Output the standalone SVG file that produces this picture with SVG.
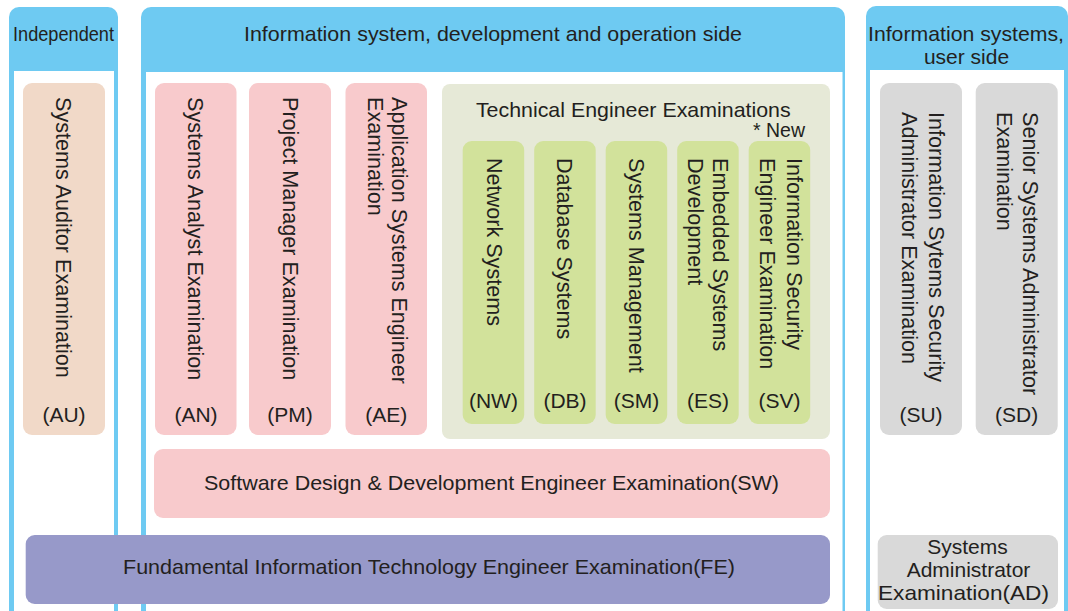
<svg xmlns="http://www.w3.org/2000/svg" width="1068" height="611" viewBox="0 0 1068 611">
  <style>
    text { font-family: "Liberation Sans", Arial, sans-serif; fill: #231f20; font-size: 21px; }
    .v { font-size: 21.6px; }
    .mid { text-anchor: middle; }
    .col { fill: #6ecaf2; }
    .inner { fill: #ffffff; }
    .au { fill: #f1d9c8; }
    .pink { fill: #f8cacc; }
    .tech { fill: #e6e9d7; }
    .green { fill: #d2e29b; }
    .gray { fill: #d9d9d9; }
    .fe { fill: #9799c9; }
  </style>

  <!-- column frames -->
  <g id="col-independent">
    <rect class="col" x="9" y="7" width="109" height="620" rx="10"/>
    <rect class="inner" x="14" y="71" width="100" height="560"/>
    <text class="mid" x="63.5" y="41" font-size="19.5" textLength="101" lengthAdjust="spacingAndGlyphs">Independent</text>
  </g>
  <g id="col-development">
    <rect class="col" x="141" y="7" width="704" height="620" rx="10"/>
    <rect class="inner" x="146" y="72" width="696.5" height="560"/>
    <text class="mid" x="493" y="41" textLength="498" lengthAdjust="spacingAndGlyphs">Information system, development and operation side</text>
  </g>
  <g id="col-user">
    <rect class="col" x="866" y="6" width="202" height="620" rx="10"/>
    <rect class="inner" x="870" y="70" width="194" height="560"/>
    <text class="mid" x="966" y="41" textLength="196" lengthAdjust="spacingAndGlyphs">Information systems,</text>
    <text class="mid" x="966.5" y="64">user side</text>
  </g>

  <!-- independent -->
  <g id="AU">
    <rect class="au" x="23" y="83" width="82" height="352" rx="9"/>
    <text class="v" transform="translate(56,97) rotate(90)">Systems Auditor Examination</text>
    <text class="mid" x="64" y="422">(AU)</text>
  </g>

  <!-- development and operation side -->
  <g id="AN">
    <rect class="pink" x="155" y="83" width="81.5" height="352" rx="9"/>
    <text class="v" transform="translate(188.3,97) rotate(90)">Systems Analyst Examination</text>
    <text class="mid" x="196" y="422">(AN)</text>
  </g>
  <g id="PM">
    <rect class="pink" x="249" y="83" width="82" height="352" rx="9"/>
    <text class="v" transform="translate(283,97) rotate(90)">Project Manager Examination</text>
    <text class="mid" x="290" y="422">(PM)</text>
  </g>
  <g id="AE">
    <rect class="pink" x="345.5" y="83" width="81.5" height="352" rx="9"/>
    <text class="v" transform="translate(391.7,97) rotate(90)"><tspan x="0" y="0">Application Systems Engineer</tspan><tspan x="0" y="23.4">Examination</tspan></text>
    <text class="mid" x="386.3" y="422">(AE)</text>
  </g>

  <g id="technical">
    <rect class="tech" x="442" y="84" width="388" height="355" rx="8"/>
    <text class="mid" x="633.3" y="117.3" textLength="314.7" lengthAdjust="spacingAndGlyphs">Technical Engineer Examinations</text>
    <text class="mid" x="779" y="137.3" font-size="20" textLength="52" lengthAdjust="spacingAndGlyphs">* New</text>
  </g>
  <g id="NW">
    <rect class="green" x="462.7" y="141" width="61.5" height="283" rx="9"/>
    <text class="v" transform="translate(486.7,158) rotate(90)">Network Systems</text>
    <text class="mid" x="493.4" y="408">(NW)</text>
  </g>
  <g id="DB">
    <rect class="green" x="534.2" y="141" width="61.5" height="283" rx="9"/>
    <text class="v" transform="translate(557,158) rotate(90)">Database Systems</text>
    <text class="mid" x="565" y="408">(DB)</text>
  </g>
  <g id="SM">
    <rect class="green" x="605.7" y="141" width="61.5" height="283" rx="9"/>
    <text class="v" transform="translate(628.5,158) rotate(90)">Systems Management</text>
    <text class="mid" x="636.5" y="408">(SM)</text>
  </g>
  <g id="ES">
    <rect class="green" x="677.2" y="141" width="61.5" height="283" rx="9"/>
    <text class="v" transform="translate(713.3,158) rotate(90)"><tspan x="0" y="0">Embedded Systems</tspan><tspan x="0" y="25">Development</tspan></text>
    <text class="mid" x="708" y="408">(ES)</text>
  </g>
  <g id="SV">
    <rect class="green" x="748.7" y="141" width="61.5" height="283" rx="9"/>
    <text class="v" transform="translate(786.7,158) rotate(90)"><tspan x="0" y="0">Information Security</tspan><tspan x="0" y="26.7">Engineer Examination</tspan></text>
    <text class="mid" x="779.5" y="408">(SV)</text>
  </g>

  <g id="SW">
    <rect class="pink" x="154" y="449" width="676" height="69" rx="9"/>
    <text class="mid" x="491.5" y="490" textLength="575" lengthAdjust="spacingAndGlyphs">Software Design &amp; Development Engineer Examination(SW)</text>
  </g>

  <g id="FE">
    <rect class="fe" x="25.7" y="535" width="804.3" height="69" rx="9"/>
    <text class="mid" x="429" y="574" textLength="612" lengthAdjust="spacingAndGlyphs">Fundamental Information Technology Engineer Examination(FE)</text>
  </g>

  <!-- user side -->
  <g id="SU">
    <rect class="gray" x="880" y="83" width="82" height="352" rx="9"/>
    <text class="v" transform="translate(929.3,112) rotate(90)"><tspan x="0" y="0">Information Sytems Security</tspan><tspan x="0" y="27.6">Administrator Examination</tspan></text>
    <text class="mid" x="921" y="422">(SU)</text>
  </g>
  <g id="SD">
    <rect class="gray" x="975.7" y="83" width="82" height="352" rx="9"/>
    <text class="v" transform="translate(1022.7,112) rotate(90)"><tspan x="0" y="0">Senior Systems Administrator</tspan><tspan x="0" y="26">Examination</tspan></text>
    <text class="mid" x="1016.7" y="422">(SD)</text>
  </g>
  <g id="AD">
    <rect class="gray" x="877.7" y="535" width="180.3" height="74" rx="9"/>
    <text class="mid" x="967.5" y="554">Systems</text>
    <text class="mid" x="968.5" y="576.7">Administrator</text>
    <text class="mid" x="963.5" y="600" textLength="171" lengthAdjust="spacingAndGlyphs">Examination(AD)</text>
  </g>
</svg>
